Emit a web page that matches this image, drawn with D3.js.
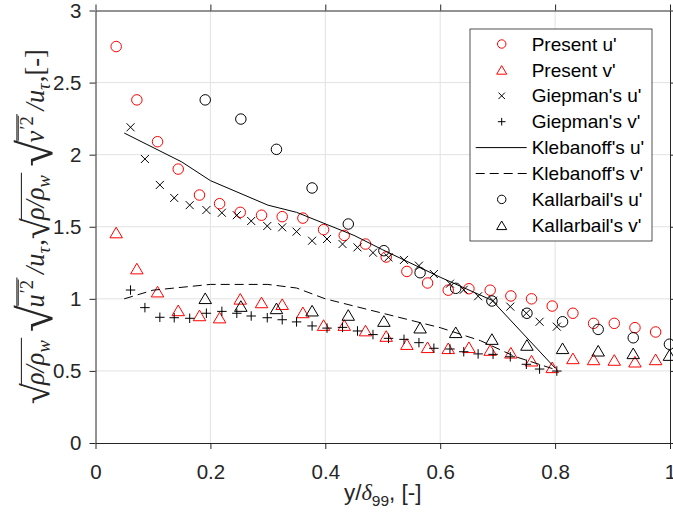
<html>
<head>
<script src="https://d3js.org/d3.v7.min.js"></script>
<style>
  body { margin: 0; background: #fff; }
</style>
</head>
<body>
<svg id="chart" width="673" height="526"></svg>
<script>
// values
const xTicks = [0, 0.2, 0.4, 0.6, 0.8, 1];
const yTicks = [0, 0.5, 1, 1.5, 2, 2.5, 3];

const presentX = [0.036, 0.072, 0.108, 0.144, 0.181, 0.216, 0.252, 0.289, 0.325, 0.361, 0.397, 0.433, 0.470, 0.506,
  0.542, 0.578, 0.614, 0.650, 0.687, 0.723, 0.759, 0.795, 0.831, 0.867, 0.903, 0.939, 0.975];
const presentU = [2.75, 2.38, 2.09, 1.90, 1.72, 1.66, 1.60, 1.58, 1.57, 1.56, 1.48, 1.44, 1.38, 1.29,
  1.19, 1.11, 1.06, 1.07, 1.06, 1.02, 1.00, 0.95, 0.90, 0.83, 0.83, 0.80, 0.77];
const presentV = [1.46, 1.21, 1.05, 0.92, 0.885, 0.87, 1.00, 0.975, 0.963, 0.906, 0.818, 0.818, 0.78, 0.742,
  0.686, 0.664, 0.657, 0.664, 0.645, 0.626, 0.571, 0.525, 0.587, 0.58, 0.576, 0.564, 0.58];

const giepX = [0.061, 0.086, 0.112, 0.137, 0.164, 0.193, 0.220, 0.246, 0.271, 0.299, 0.325, 0.350, 0.377, 0.403,
  0.430, 0.456, 0.483, 0.510, 0.537, 0.563, 0.589, 0.617, 0.641, 0.666, 0.692, 0.722, 0.750, 0.773, 0.803];
const giepU = [2.19, 1.97, 1.79, 1.70, 1.65, 1.616, 1.597, 1.58, 1.54, 1.505, 1.496, 1.466, 1.403, 1.415,
  1.38, 1.357, 1.32, 1.288, 1.27, 1.23, 1.172, 1.105, 1.063, 1.018, 0.987, 0.946, 0.90, 0.841, 0.807];
const giepV = [1.061, 0.939, 0.872, 0.869, 0.865, 0.90, 0.913, 0.90, 0.881, 0.869, 0.855, 0.84, 0.812, 0.797,
  0.802, 0.777, 0.752, 0.726, 0.719, 0.696, 0.657, 0.652, 0.633, 0.618, 0.615, 0.598, 0.546, 0.513, 0.499];

const klebUX = [0.05, 0.15, 0.2, 0.3, 0.35, 0.45, 0.5, 0.6, 0.69, 0.80];
const klebU = [2.15, 1.95, 1.82, 1.65, 1.60, 1.44, 1.34, 1.15, 0.99, 0.52];
const klebVX = [0.05, 0.1, 0.2, 0.3, 0.35, 0.4, 0.5, 0.6, 0.67, 0.73, 0.80];
const klebV = [1.0, 1.06, 1.10, 1.10, 1.075, 1.0, 0.90, 0.80, 0.71, 0.60, 0.51];

const kallX = [0.191, 0.253, 0.315, 0.377, 0.44, 0.502, 0.565, 0.627, 0.69, 0.751, 0.813, 0.875, 0.936, 0.999];
const kallU = [2.38, 2.247, 2.037, 1.769, 1.519, 1.334, 1.181, 1.073, 0.985, 0.90, 0.841, 0.788, 0.73, 0.685];
const kallV = [1.004, 0.95, 0.934, 0.918, 0.888, 0.846, 0.80, 0.768, 0.721, 0.68, 0.657, 0.64, 0.622, 0.61];

const svg = d3.select('#chart');
const ink = '#262626';
const sans = '"Liberation Sans", Arial, sans-serif';
const serif = '"Liberation Serif", "Times New Roman", serif';

const x = d3.scaleLinear().domain([0, 1]).range([95.5, 670]);
const y = d3.scaleLinear().domain([0, 3]).range([443, 10.5]);

// grid
svg.append('g').selectAll('line').data(xTicks.slice(1, -1)).join('line')
  .attr('x1', d => x(d)).attr('x2', d => x(d)).attr('y1', y(0)).attr('y2', y(3))
  .attr('stroke', '#e2e2e2');
svg.append('g').selectAll('line').data(yTicks.slice(1, -1)).join('line')
  .attr('x1', x(0)).attr('x2', x(1)).attr('y1', d => y(d)).attr('y2', d => y(d))
  .attr('stroke', '#e2e2e2');

// axes (box on, ticks out)
const fmt = d => String(+d.toFixed(1));
const styleAxis = g => {
  g.attr('font-family', sans).attr('font-size', 20.5);
  g.select('.domain').attr('stroke', ink);
  g.selectAll('.tick line').attr('stroke', ink);
  g.selectAll('.tick text').attr('fill', ink);
};
svg.append('g').attr('transform', `translate(0,${y(0)})`)
  .call(d3.axisBottom(x).tickValues(xTicks).tickFormat(fmt).tickSize(6).tickSizeOuter(0).tickPadding(15))
  .call(styleAxis);
svg.append('g').attr('transform', `translate(0,${y(3)})`)
  .call(d3.axisTop(x).tickValues(xTicks).tickFormat('').tickSize(6).tickSizeOuter(0))
  .call(styleAxis);
svg.append('g').attr('transform', `translate(${x(0)},0)`)
  .call(d3.axisLeft(y).tickValues(yTicks).tickFormat(fmt).tickSize(6).tickSizeOuter(0).tickPadding(8))
  .call(styleAxis);
svg.append('g').attr('transform', `translate(${x(1)},0)`)
  .call(d3.axisRight(y).tickValues(yTicks).tickFormat('').tickSize(6).tickSizeOuter(0))
  .call(styleAxis);

// marker shapes
const symCirc = { draw(c, s) { const r = Math.sqrt(s) / 2; c.moveTo(r, 0); c.arc(0, 0, r, 0, 2 * Math.PI); } };
const symTri = { draw(c, s) { const w = Math.sqrt(s), h = w * 0.85; c.moveTo(0, -h / 2); c.lineTo(w / 2, h / 2); c.lineTo(-w / 2, h / 2); c.closePath(); } };
const symX = { draw(c, s) { const r = Math.sqrt(s) / 2; c.moveTo(-r, -r); c.lineTo(r, r); c.moveTo(-r, r); c.lineTo(r, -r); } };
const symPlus = { draw(c, s) { const r = Math.sqrt(s) / 2; c.moveTo(-r, 0); c.lineTo(r, 0); c.moveTo(0, -r); c.lineTo(0, r); } };

const series = [
  { name: "Present u'", xs: presentX, ys: presentU, sym: symCirc, size: 110, color: '#ff0000' },
  { name: "Present v'", xs: presentX, ys: presentV, sym: symTri, size: 156, color: '#ff0000' },
  { name: "Giepman's u'", xs: giepX, ys: giepU, sym: symX, size: 64, color: '#000' },
  { name: "Giepman's v'", xs: giepX, ys: giepV, sym: symPlus, size: 90, color: '#000' },
  { name: "Klebanoff's u'", xs: klebUX, ys: klebU, dash: null, color: '#000' },
  { name: "Klebanoff's v'", xs: klebVX, ys: klebV, dash: '9,5', color: '#000' },
  { name: "Kallarbail's u'", xs: kallX, ys: kallU, sym: symCirc, size: 110, color: '#000' },
  { name: "Kallarbail's v'", xs: kallX, ys: kallV, sym: symTri, size: 156, color: '#000' }
];

const line = d3.line().x(d => x(d[0])).y(d => y(d[1]));
series.forEach(s => {
  const pts = s.xs.map((v, i) => [v, s.ys[i]]);
  if (s.sym) {
    svg.append('g').selectAll('path').data(pts).join('path')
      .attr('transform', d => `translate(${x(d[0])},${y(d[1])})`)
      .attr('d', d3.symbol(s.sym, s.size))
      .attr('fill', 'none').attr('stroke', s.color).attr('stroke-width', 1);
  } else {
    svg.append('path').datum(pts).attr('d', line)
      .attr('fill', 'none').attr('stroke', s.color).attr('stroke-width', 1)
      .attr('stroke-dasharray', s.dash);
  }
});

// legend
const leg = svg.append('g').attr('transform', 'translate(470,29)');
leg.append('rect').attr('width', 182).attr('height', 212)
  .attr('fill', '#fff').attr('stroke', ink).attr('stroke-width', 0.8);
series.forEach((s, i) => {
  const row = leg.append('g').attr('transform', `translate(0,${15 + i * 25.9})`);
  if (s.sym) {
    row.append('path').attr('transform', 'translate(31.7,0)')
      .attr('d', d3.symbol(s.sym, s.size * 0.65))
      .attr('fill', 'none').attr('stroke', s.color).attr('stroke-width', 1);
  } else {
    row.append('line').attr('x1', 5.7).attr('x2', 56.7)
      .attr('stroke', s.color).attr('stroke-width', 1).attr('stroke-dasharray', s.dash);
  }
  row.append('text').attr('x', 61.7).attr('dy', '0.35em')
    .attr('font-family', sans).attr('font-size', 19).attr('fill', '#000').text(s.name);
});

// x label
const xl = svg.append('text').attr('x', (x(0) + x(1)) / 2).attr('y', 500)
  .attr('text-anchor', 'middle').attr('font-family', sans).attr('font-size', 22.5).attr('fill', ink);
xl.append('tspan').text('y/');
xl.append('tspan').attr('font-family', serif).attr('font-style', 'italic').text('δ');
xl.append('tspan').attr('font-size', 15.5).attr('dy', 6).text('99');
xl.append('tspan').attr('dy', -6).text(', [-]');

// y label, built left to right then rotated and fitted to the reference length
const lab = svg.append('g');
const fs = 22;
let cur = 0;
const put = (str, o = {}) => {
  const t = lab.append('text').attr('x', cur).attr('y', o.dy || 0)
    .attr('font-family', serif).attr('font-style', o.up ? 'normal' : 'italic')
    .attr('font-size', o.size || fs).attr('fill', ink).text(str);
  const x0 = cur;
  cur += t.node().getComputedTextLength() + (o.gap || 0);
  return x0;
};
const bar = (a, b, h) => lab.append('line').attr('x1', a).attr('x2', b).attr('y1', h).attr('y2', h)
  .attr('stroke', ink).attr('stroke-width', 0.9);

function rhoRoot() {
  const sz = fs * 1.45, dy = fs * 0.2;
  put('√', { up: true, size: sz, dy: dy, gap: -1.5 });
  const a = cur;
  put('ρ/ρ');
  put('w', { size: fs * 0.7, dy: fs * 0.22, gap: 2 });
  bar(a - 0.5, cur, dy - sz * 0.73);
  cur += 5;
}
function velRoot(c) {
  const sz = fs * 1.85, dy = fs * 0.32;
  put('√', { up: true, size: sz, dy: dy, gap: -2 });
  const a = cur;
  put(c, { gap: 1 });
  put('′2', { up: true, size: fs * 0.7, dy: -fs * 0.42, gap: 1 });
  bar(a + 1.5, cur - 0.5, -fs * 0.98);
  bar(a - 0.5, cur + 1, dy - sz * 0.73);
  cur += 4;
  put('/u');
  put('τ', { size: fs * 0.7, dy: fs * 0.22, gap: 1 });
}
rhoRoot();
velRoot('u');
put(', ', { up: true });
rhoRoot();
velRoot('v');
put(', ', { up: true });
put('[-]', { up: true });
const W = cur;
const k = 355 / W;
lab.attr('transform', `translate(44,${(y(0) + y(3)) / 2}) rotate(-90) scale(${k}) translate(${-W / 2},0)`);
</script>
</body>
</html>
